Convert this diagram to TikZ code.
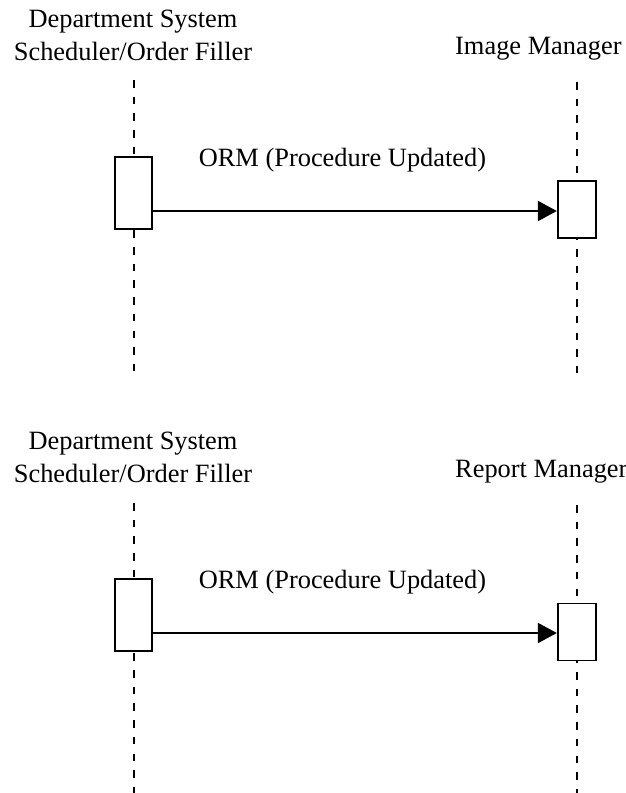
\documentclass[tikz,border=0pt]{standalone}
\usepackage{fontspec}
\setmainfont{Liberation Serif}
\usetikzlibrary{arrows.meta}
\begin{document}
\begin{tikzpicture}[x=1pt,y=-1pt,
  lbl/.style={font=\fontsize{26.4}{33}\selectfont, inner sep=0pt, align=center},
  life/.style={line width=1.5pt, dash pattern=on 7.5pt off 9.2pt},
  actbox/.style={draw, fill=white, line width=1.8pt, minimum width=37pt, inner sep=0pt},
  msg/.style={line width=2pt, -{Triangle[length=19pt,width=20pt]}}]
\useasboundingbox (0,0) rectangle (626,793);

% ---------- top diagram ----------
\node[lbl, anchor=base] (t1) at (133,60) {Department System\\Scheduler/Order Filler};
\node[lbl, anchor=base west] (t2) at (455,54) {Image Manager};
\coordinate (l1t) at (134,80);  \coordinate (l1b) at (134,373);
\coordinate (r1t) at (577,82);  \coordinate (r1b) at (577,374);
\draw[life] (l1t) -- (l1b);
\draw[life] (r1t) -- (r1b);
\node[actbox, minimum height=72pt] (lb1) at (133.5,193) {};
\node[actbox, minimum width=38.5pt, minimum height=57pt] (rb1) at (577,209.5) {};
\coordinate (m1) at (0,211);
\draw[msg] (lb1.east |- m1) -- (rb1.west |- m1);
\node[lbl, anchor=base] (o1) at (342.5,166) {ORM (Procedure Updated)};

% ---------- bottom diagram ----------
\node[lbl, anchor=base] (t3) at (133,482) {Department System\\Scheduler/Order Filler};
\node[lbl, anchor=base west] (t4) at (455,477) {Report Manager};
\coordinate (l2t) at (134,503);  \coordinate (l2b) at (134,793);
\coordinate (r2t) at (577,505);  \coordinate (r2b) at (577,793);
\draw[life] (l2t) -- (l2b);
\draw[life] (r2t) -- (r2b);
\node[actbox, minimum height=72pt] (lb2) at (133.5,615) {};
\node[actbox, minimum width=38.5pt, minimum height=57pt] (rb2) at (577,632) {};
\coordinate (m2) at (0,633);
\draw[msg] (lb2.east |- m2) -- (rb2.west |- m2);
\node[lbl, anchor=base] (o2) at (342.5,588) {ORM (Procedure Updated)};
\end{tikzpicture}
\end{document}
